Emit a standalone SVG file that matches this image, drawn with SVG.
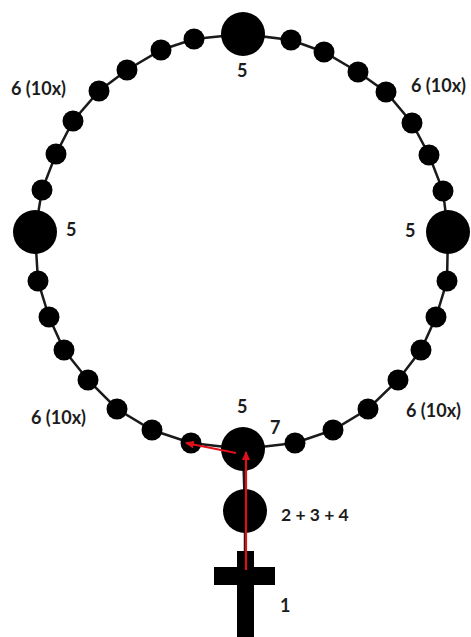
<svg xmlns="http://www.w3.org/2000/svg" width="471" height="637" viewBox="0 0 471 637">
<defs>
<marker id="ah" markerUnits="userSpaceOnUse" markerWidth="9" markerHeight="9" refX="8" refY="4" orient="auto"><path d="M0 0L9 4L0 8Z" fill="#e0101a"/></marker>
</defs>
<style>
.l{fill:none;stroke:#1a1a1a;stroke-width:2.5}
.b{fill:#000}
.b circle{r:10.5px}
.r{stroke:#e0101a;stroke-width:2.2;fill:none;marker-end:url(#ah)}
text{font-family:"Lato","Liberation Sans",sans-serif;font-weight:700;font-size:18px;fill:#1c1c1c}
.t{font-size:17.5px}
</style>
<rect width="471" height="637" fill="#fff"/>
<g id="connectors">
<path class="l" d="M243 34L291 40L324 52L358 72L386 92L412 123L429 155L443 191L448 232L447 281L436 317L421 350L398 380L368 409L333 430L295 443L243 449L191 443L152 430L117 409L88 380L64 350L49 317L38 281L35 232L42 190L56 154L73 121L99 91L127 70L161 50L194 39Z"/>
<path class="l" d="M243 449L245 511L245 560"/>
</g>
<g id="bead-top"><circle fill="#000" cx="243" cy="34" r="22"/><text x="237" y="77">5</text></g>
<g id="bead-right"><circle fill="#000" cx="448" cy="232" r="22"/><text x="405" y="237">5</text></g>
<g id="bead-left"><circle fill="#000" cx="35" cy="232" r="22"/><text x="66" y="236">5</text></g>
<g id="bead-bottom"><circle fill="#000" cx="243" cy="449" r="22"/><text x="237" y="413">5</text><text x="270" y="434">7</text></g>
<g id="bead-stem"><circle fill="#000" cx="245" cy="511" r="22"/><text class="t" x="281" y="521">2 + 3 + 4</text></g>
<g id="cross"><rect fill="#000" x="237" y="551" width="17" height="86"/><rect fill="#000" x="214" y="567" width="61" height="18"/><text x="280" y="612">1</text></g>
<g id="beads-top-right" class="b">
<circle cx="291" cy="40"/><circle cx="324" cy="52"/><circle cx="358" cy="72"/><circle cx="386" cy="92"/><circle cx="412" cy="123"/><circle cx="429" cy="155"/><circle cx="443" cy="191"/>
<text x="411" y="92">6 (10x)</text></g>
<g id="beads-bottom-right" class="b">
<circle cx="447" cy="281"/><circle cx="436" cy="317"/><circle cx="421" cy="350"/><circle cx="398" cy="380"/><circle cx="368" cy="409"/><circle cx="333" cy="430"/><circle cx="295" cy="443"/>
<text x="406" y="417">6 (10x)</text></g>
<g id="beads-bottom-left" class="b">
<circle cx="191" cy="443"/><circle cx="152" cy="430"/><circle cx="117" cy="409"/><circle cx="88" cy="380"/><circle cx="64" cy="350"/><circle cx="49" cy="317"/><circle cx="38" cy="281"/>
<text x="31" y="424">6 (10x)</text></g>
<g id="beads-top-left" class="b">
<circle cx="42" cy="190"/><circle cx="56" cy="154"/><circle cx="73" cy="121"/><circle cx="99" cy="91"/><circle cx="127" cy="70"/><circle cx="161" cy="50"/><circle cx="194" cy="39"/>
<text x="11" y="95">6 (10x)</text></g>
<g id="arrows">
<line class="r" x1="246" y1="570" x2="246" y2="452"/>
<line class="r" x1="236" y1="453" x2="186" y2="443"/>
</g>
</svg>
